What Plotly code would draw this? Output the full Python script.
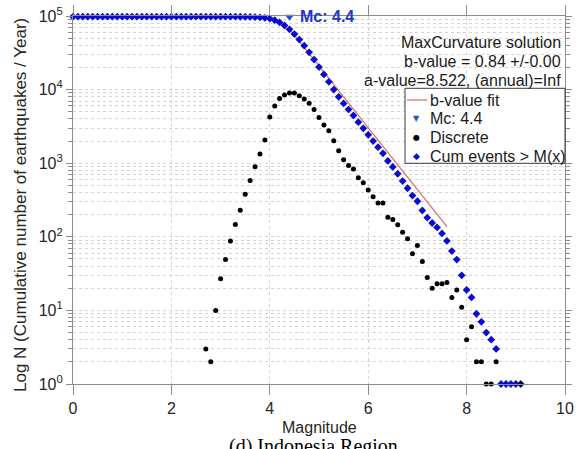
import math
import plotly.graph_objects as go

# Magnitude bins (0.1 steps) and cumulative number of events >= M
mag_bins = [0.0, 0.1, 0.2, 0.3, 0.4, 0.5, 0.6, 0.7, 0.8, 0.9,
            1.0, 1.1, 1.2, 1.3, 1.4, 1.5, 1.6, 1.7, 1.8, 1.9,
            2.0, 2.1, 2.2, 2.3, 2.4, 2.5, 2.6, 2.7, 2.8, 2.9,
            3.0, 3.1, 3.2, 3.3, 3.4, 3.5, 3.6, 3.7, 3.8, 3.9,
            4.0, 4.1, 4.2, 4.3, 4.4, 4.5, 4.6, 4.7, 4.8, 4.9,
            5.0, 5.1, 5.2, 5.3, 5.4, 5.5, 5.6, 5.7, 5.8, 5.9,
            6.0, 6.1, 6.2, 6.3, 6.4, 6.5, 6.6, 6.7, 6.8, 6.9,
            7.0, 7.1, 7.2, 7.3, 7.4, 7.5, 7.6, 7.7, 7.8, 7.9,
            8.0, 8.1, 8.2, 8.3, 8.4, 8.5, 8.6, 8.7, 8.8, 8.9,
            9.0, 9.1]
cum_counts = [97940, 97940, 97940, 97940, 97940, 97940, 97940, 97940, 97940, 97940,
              97940, 97940, 97940, 97940, 97940, 97940, 97940, 97940, 97940, 97940,
              97940, 97940, 97940, 97940, 97940, 97940, 97940, 97940, 97937, 97935,
              97925, 97898, 97849, 97761, 97614, 97385, 97006, 96423, 95527, 94193,
              92123, 87873, 81873, 74323, 65853, 56833, 47813, 39533, 32093, 25593,
              20223, 16053, 12753, 9996, 7973, 6494, 5378, 4445, 3611, 2976,
              2433, 2001, 1651, 1363, 1075, 890, 718, 572, 457, 363,
              304, 228, 182, 154, 134, 111, 88, 64, 49, 30,
              19, 15, 9, 7, 5, 4, 3, 1, 1, 1,
              1, 1]

# Non-cumulative (discrete) counts per magnitude bin
disc_mags = [2.7, 2.8, 2.9, 3.0, 3.1, 3.2, 3.3, 3.4, 3.5, 3.6,
             3.7, 3.8, 3.9, 4.0, 4.1, 4.2, 4.3, 4.4, 4.5, 4.6,
             4.7, 4.8, 4.9, 5.0, 5.1, 5.2, 5.3, 5.4, 5.5, 5.6,
             5.7, 5.8, 5.9, 6.0, 6.1, 6.2, 6.3, 6.4, 6.5, 6.6,
             6.7, 6.8, 6.9, 7.0, 7.1, 7.2, 7.3, 7.4, 7.5, 7.6,
             7.7, 7.8, 7.9, 8.0, 8.1, 8.2, 8.3, 8.4, 8.5, 8.6,
             9.1]
disc_counts = [3, 2, 10, 27, 49, 88, 147, 229, 379, 583,
               896, 1334, 2070, 4250, 6000, 7550, 8470, 9020, 9020, 8280,
               7440, 6500, 5370, 4170, 3300, 2757, 2023, 1479, 1116, 933,
               834, 635, 543, 432, 350, 288, 288, 185, 172, 146,
               115, 94, 59, 76, 46, 28, 20, 23, 23, 24,
               15, 19, 11, 4, 6, 2, 2, 1, 1, 2,
               1]

# Maximum-curvature solution
mc = 4.4
b_value = 0.84
b_err = 0.00
a_value = 8.522
fit_mag_range = [mc, 7.6]

x_ticks = [0, 2, 4, 6, 8, 10]
y_decades = [0, 1, 2, 3, 4, 5]

FONT = "Liberation Sans, Arial, Helvetica, sans-serif"
AXIS_GRAY = "#8c8c8c"
GRID = "#d4d4d4"
BLUE = "#0b0bd2"
MC_BLUE = "#1f55c4"
FIT_RED = "#c87a72"
TEXT = "#1a1a1a"

# plot-area geometry in pixels, used to place the free text and the key
L, R, T, B = 73, 15, 16, 65
W, H = 580, 449
PW, PH = W - L - R, H - T - B


def px_x(px):
    return (px - L) / PW


def px_y(py):
    return (T + PH - py) / PH


fit_vals = [10 ** (a_value - b_value * m) for m in fit_mag_range]
mc_level = max(cum_counts)

fig = go.Figure()

fig.add_trace(go.Scatter(
    x=fit_mag_range, y=fit_vals, mode="lines", name="b-value fit",
    line=dict(color=FIT_RED, width=1.3), cliponaxis=False))

fig.add_trace(go.Scatter(
    x=[mc], y=[mc_level], mode="markers", name=f"Mc: {mc}",
    marker=dict(symbol="triangle-down", size=8, color=MC_BLUE),
    cliponaxis=False))

fig.add_trace(go.Scatter(
    x=mag_bins, y=cum_counts, mode="markers", name="Cum events > M(x)",
    marker=dict(symbol="diamond", size=6, color=BLUE), cliponaxis=False))

fig.add_trace(go.Scatter(
    x=disc_mags, y=disc_counts, mode="markers", name="Discrete",
    marker=dict(symbol="circle", size=5, color="black"), cliponaxis=False))

minor_y = [k * 10 ** d for d in y_decades[:-1] for k in range(2, 10)]

fig.update_xaxes(
    range=[0, 10], tickvals=x_ticks, ticks="outside", ticklen=10,
    tickcolor=AXIS_GRAY, tickwidth=1, showline=True, linecolor=AXIS_GRAY,
    linewidth=1.2, mirror="ticks", showgrid=True, gridcolor=GRID,
    griddash="dot", gridwidth=1, zeroline=False, automargin=False,
    tickfont=dict(family=FONT, size=16, color="#262626"))

fig.update_yaxes(
    type="log", range=[0, 5],
    tickvals=[10 ** d for d in y_decades],
    ticktext=[f"10<sup>{d}</sup>" for d in y_decades],
    ticks="outside", ticklen=6, tickcolor=AXIS_GRAY, tickwidth=1,
    showline=True, linecolor=AXIS_GRAY, linewidth=1.2, mirror="ticks",
    showgrid=True, gridcolor=GRID, griddash="dot", gridwidth=1,
    zeroline=False, automargin=False,
    minor=dict(tickvals=minor_y, ticks="outside", ticklen=4,
               tickcolor=AXIS_GRAY, showgrid=True, gridcolor=GRID,
               griddash="dot", gridwidth=1),
    tickfont=dict(family=FONT, size=16, color="#262626"))

text_font = dict(family=FONT, size=16, color=TEXT)
annotations = [
    dict(text=f"Mc: {mc}", x=mc, y=math.log10(mc_level),
         xref="x", yref="y", xanchor="left", yanchor="middle", xshift=9,
         showarrow=False,
         font=dict(family=FONT, size=16, color="#2233cc", weight="bold")),
    dict(text="MaxCurvature solution", x=px_x(563), y=px_y(42.7),
         xref="paper", yref="paper", xanchor="right", yanchor="middle",
         showarrow=False, font=text_font),
    dict(text=f"b-value = {b_value:.2f} +/-{b_err:.2f}", x=px_x(563),
         y=px_y(61.7), xref="paper", yref="paper", xanchor="right",
         yanchor="middle", showarrow=False, font=text_font),
    dict(text=f"a-value={a_value:.3f}, (annual)=Inf", x=px_x(563),
         y=px_y(80.5), xref="paper", yref="paper", xanchor="right",
         yanchor="middle", showarrow=False, font=text_font),
    dict(text="Magnitude", x=0.5, y=px_y(427), xref="paper",
         yref="paper", xanchor="center", yanchor="middle", showarrow=False,
         font=dict(family=FONT, size=16, color="#262626")),
    dict(text="Log N (Cumulative number of earthquakes / Year)",
         x=px_x(20), y=px_y(205), xref="paper", yref="paper",
         xanchor="center", yanchor="middle", textangle=-90, showarrow=False,
         font=dict(family=FONT, size=17, color="#262626")),
    dict(text="(d) Indonesia Region", x=px_x(313), y=px_y(433),
         xref="paper", yref="paper", xanchor="center", yanchor="top",
         showarrow=False,
         font=dict(family="Liberation Serif, Times New Roman, serif",
                   size=20, color="black")),
]

# Key box in the upper right corner of the axes
key_left, key_top, key_bottom = 405, 88.3, 163.3
key_rows = [100, 119, 137.5, 156]
key_sym_x, key_text_x = 416.5, 428
shapes = [
    dict(type="rect", xref="paper", yref="paper",
         x0=px_x(key_left), x1=1, y0=px_y(key_bottom), y1=px_y(key_top),
         fillcolor="white", line=dict(color="#3a3a3a", width=1),
         layer="above"),
    dict(type="line", xref="paper", yref="paper",
         x0=px_x(407), x1=px_x(427), y0=px_y(key_rows[0]),
         y1=px_y(key_rows[0]), line=dict(color=FIT_RED, width=1.3),
         layer="above"),
]
key_entries = [
    (None, None, None, "b-value fit"),
    ("\u25BC", MC_BLUE, 8, f"Mc: {mc}"),
    ("\u25CF", "black", 8, "Discrete"),
    ("\u25C6", BLUE, 9, "Cum events > M(x)"),
]
for row, (glyph, color, size, label) in zip(key_rows, key_entries):
    if glyph:
        annotations.append(dict(
            text=glyph, x=px_x(key_sym_x), y=px_y(row), xref="paper",
            yref="paper", xanchor="center", yanchor="middle",
            showarrow=False,
            font=dict(family="DejaVu Sans", size=size, color=color)))
    annotations.append(dict(
        text=label, x=px_x(key_text_x), y=px_y(row), xref="paper",
        yref="paper", xanchor="left", yanchor="middle", showarrow=False,
        font=text_font))

fig.update_layout(
    width=W, height=H,
    margin=dict(l=L, r=R, t=T, b=B, autoexpand=False),
    paper_bgcolor="white", plot_bgcolor="white",
    showlegend=False,
    annotations=annotations,
    shapes=shapes,
)

fig.write_html("out.html")
